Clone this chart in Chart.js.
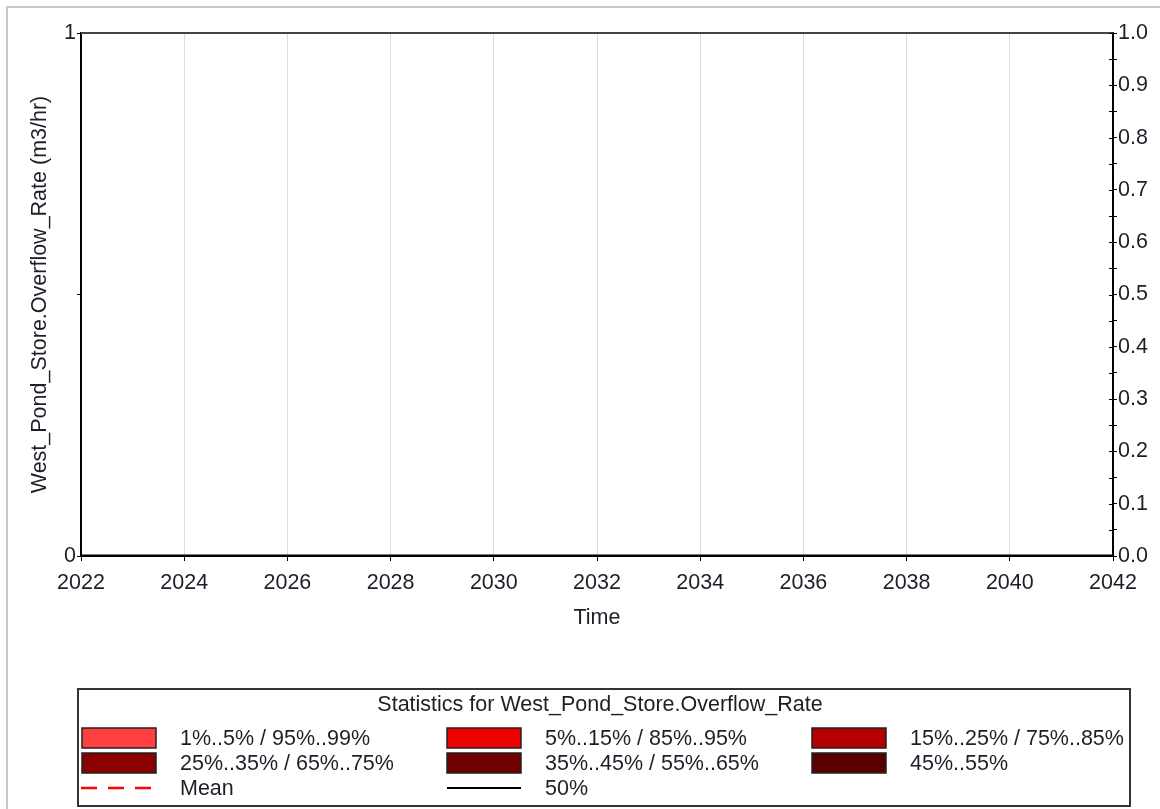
<!DOCTYPE html>
<html>
<head>
<meta charset="utf-8">
<script src="https://cdn.jsdelivr.net/npm/chart.js@4.4.1/dist/chart.umd.min.js"></script>
<style>
    html, body { margin: 0; padding: 0; background: #fff; }
    #wrap { position: relative; width: 1160px; height: 809px; }
</style>
</head>
<body>
<div id="wrap"><canvas id="overflowChart" width="1160" height="809"></canvas></div>
<script>
// time axis (years) and percentile series - the simulation never overflows, everything sits at 0
const years = [2022, 2023, 2024, 2025, 2026, 2027, 2028, 2029, 2030, 2031, 2032, 2033, 2034, 2035, 2036, 2037, 2038, 2039, 2040, 2041, 2042];
const pct01 = [0, 0, 0, 0, 0, 0, 0, 0, 0, 0, 0, 0, 0, 0, 0, 0, 0, 0, 0, 0, 0];
const pct05 = [0, 0, 0, 0, 0, 0, 0, 0, 0, 0, 0, 0, 0, 0, 0, 0, 0, 0, 0, 0, 0];
const pct15 = [0, 0, 0, 0, 0, 0, 0, 0, 0, 0, 0, 0, 0, 0, 0, 0, 0, 0, 0, 0, 0];
const pct25 = [0, 0, 0, 0, 0, 0, 0, 0, 0, 0, 0, 0, 0, 0, 0, 0, 0, 0, 0, 0, 0];
const pct35 = [0, 0, 0, 0, 0, 0, 0, 0, 0, 0, 0, 0, 0, 0, 0, 0, 0, 0, 0, 0, 0];
const pct45 = [0, 0, 0, 0, 0, 0, 0, 0, 0, 0, 0, 0, 0, 0, 0, 0, 0, 0, 0, 0, 0];
const pct55 = [0, 0, 0, 0, 0, 0, 0, 0, 0, 0, 0, 0, 0, 0, 0, 0, 0, 0, 0, 0, 0];
const pct65 = [0, 0, 0, 0, 0, 0, 0, 0, 0, 0, 0, 0, 0, 0, 0, 0, 0, 0, 0, 0, 0];
const pct75 = [0, 0, 0, 0, 0, 0, 0, 0, 0, 0, 0, 0, 0, 0, 0, 0, 0, 0, 0, 0, 0];
const pct85 = [0, 0, 0, 0, 0, 0, 0, 0, 0, 0, 0, 0, 0, 0, 0, 0, 0, 0, 0, 0, 0];
const pct95 = [0, 0, 0, 0, 0, 0, 0, 0, 0, 0, 0, 0, 0, 0, 0, 0, 0, 0, 0, 0, 0];
const pct99 = [0, 0, 0, 0, 0, 0, 0, 0, 0, 0, 0, 0, 0, 0, 0, 0, 0, 0, 0, 0, 0];
const meanVals = [0, 0, 0, 0, 0, 0, 0, 0, 0, 0, 0, 0, 0, 0, 0, 0, 0, 0, 0, 0, 0];
const medianVals = [0, 0, 0, 0, 0, 0, 0, 0, 0, 0, 0, 0, 0, 0, 0, 0, 0, 0, 0, 0, 0];

// axis ticks
const xTicks = [2022, 2024, 2026, 2028, 2030, 2032, 2034, 2036, 2038, 2040, 2042];
const leftTicks = [0, 0.5, 1];
const leftLabels = ["0", "", "1"];

// legend entries
const bandLabels = ["1%..5% / 95%..99%", "5%..15% / 85%..95%", "15%..25% / 75%..85%",
                    "25%..35% / 65%..75%", "35%..45% / 55%..65%", "45%..55%"];
const bandColors = ["#ff4040", "#ee0000", "#b40000", "#8b0000", "#6e0000", "#580000"];

const FONT = "'Liberation Sans', Arial, sans-serif";
const FS = 21.5;
const TEXT = "#1e1e28";

function pts(vals) {
    return years.map((y, i) => ({ x: y, y: vals[i] }));
}

// bands are filled against the previous dataset
const series = [pct01, pct05, pct15, pct25, pct35, pct45, pct55, pct65, pct75, pct85, pct95, pct99];
const fillColors = [null, bandColors[0], bandColors[1], bandColors[2], bandColors[3], bandColors[4],
                    bandColors[5], bandColors[4], bandColors[3], bandColors[2], bandColors[1], bandColors[0]];
const datasets = series.map((vals, i) => ({
    label: "p" + i,
    data: pts(vals),
    borderWidth: 0,
    pointRadius: 0,
    backgroundColor: fillColors[i] || "transparent",
    fill: i === 0 ? false : "-1",
    order: 5
}));
datasets.push({
    label: "Mean",
    data: pts(meanVals),
    borderColor: "#ff0000",
    borderWidth: 2,
    borderDash: [16, 11],
    pointRadius: 0,
    fill: false,
    order: 1
});
datasets.push({
    label: "50%",
    data: pts(medianVals),
    borderColor: "#000",
    borderWidth: 3,
    pointRadius: 0,
    fill: false,
    order: 0
});

// page frame, plot top edge, inner ticks on the right axis and the statistics legend
const decorations = {
    id: "decorations",
    beforeDraw(chart) {
        const ctx = chart.ctx;
        ctx.save();
        ctx.fillStyle = "#fff";
        ctx.fillRect(0, 0, chart.width, chart.height);
        ctx.fillStyle = "#c8c8c8";
        ctx.fillRect(6, 6, chart.width - 6, 2);
        ctx.fillRect(6, 6, 2, chart.height - 6);
        ctx.restore();
    },
    afterDraw(chart) {
        const ctx = chart.ctx;
        const area = chart.chartArea;
        const yr = chart.scales.yRight;
        ctx.save();

        // top edge of the plot
        ctx.strokeStyle = "#444";
        ctx.lineWidth = 2;
        ctx.beginPath();
        ctx.moveTo(area.left, area.top);
        ctx.lineTo(area.right, area.top);
        ctx.stroke();

        // right axis ticks cross the axis line
        ctx.strokeStyle = "#000";
        ctx.lineWidth = 1;
        yr.ticks.forEach(t => {
            const y = Math.round(yr.getPixelForValue(t.value)) + 0.5;
            ctx.beginPath();
            ctx.moveTo(area.right - 4, y);
            ctx.lineTo(area.right, y);
            ctx.stroke();
        });

        // legend box
        const bx = 78, by = 689, bw = 1052, bh = 117;
        ctx.strokeStyle = "#333";
        ctx.lineWidth = 2;
        ctx.strokeRect(bx, by, bw, bh);

        ctx.fillStyle = TEXT;
        ctx.font = FS + "px " + FONT;
        ctx.textBaseline = "middle";
        ctx.textAlign = "center";
        ctx.fillText("Statistics for West_Pond_Store.Overflow_Rate", 600, 705);

        const colX = [82, 447, 812];
        const rowY = [738, 763, 788];
        ctx.textAlign = "left";
        bandLabels.forEach((lbl, i) => {
            const cx = colX[i % 3], cy = rowY[Math.floor(i / 3)];
            ctx.fillStyle = bandColors[i];
            ctx.fillRect(cx, cy - 10, 74, 20);
            ctx.strokeStyle = "#222";
            ctx.lineWidth = 1.5;
            ctx.strokeRect(cx, cy - 10, 74, 20);
            ctx.fillStyle = TEXT;
            ctx.fillText(lbl, cx + 98, cy + 1);
        });

        // mean (dashed red) and median (black) legend lines
        ctx.strokeStyle = "#ff0000";
        ctx.lineWidth = 2.5;
        ctx.setLineDash([16, 11]);
        ctx.beginPath();
        ctx.moveTo(81, rowY[2]);
        ctx.lineTo(152, rowY[2]);
        ctx.stroke();
        ctx.setLineDash([]);
        ctx.strokeStyle = "#000";
        ctx.lineWidth = 2;
        ctx.beginPath();
        ctx.moveTo(colX[1], rowY[2]);
        ctx.lineTo(colX[1] + 74, rowY[2]);
        ctx.stroke();
        ctx.fillStyle = TEXT;
        ctx.fillText("Mean", colX[0] + 98, rowY[2] + 1);
        ctx.fillText("50%", colX[1] + 98, rowY[2] + 1);

        ctx.restore();
    }
};

const ctx = document.getElementById("overflowChart").getContext("2d");
new Chart(ctx, {
    type: "line",
    data: { datasets: datasets },
    plugins: [decorations],
    options: {
        responsive: false,
        animation: false,
        events: [],
        layout: { padding: { top: 33, left: 0, right: 0, bottom: 178 } },
        plugins: {
            legend: { display: false },
            tooltip: { enabled: false },
            filler: { propagate: false }
        },
        scales: {
            x: {
                type: "linear",
                min: xTicks[0],
                max: xTicks[xTicks.length - 1],
                afterBuildTicks: scale => { scale.ticks = xTicks.map(v => ({ value: v })); },
                afterFit: scale => { scale.height = 75; },
                grid: { color: "#dcdcdc", lineWidth: 1, tickLength: 5, tickColor: "#000", drawOnChartArea: true },
                border: { color: "#000", width: 2 },
                ticks: {
                    color: TEXT,
                    font: { family: FONT, size: FS },
                    padding: 9,
                    maxRotation: 0,
                    callback: v => String(v)
                },
                title: {
                    display: true,
                    text: "Time",
                    color: TEXT,
                    font: { family: FONT, size: FS },
                    padding: { top: 0, bottom: 0 }
                }
            },
            y: {
                position: "left",
                min: 0,
                max: 1,
                afterBuildTicks: scale => { scale.ticks = leftTicks.map(v => ({ value: v })); },
                afterFit: scale => { scale.width = 81; },
                grid: { drawOnChartArea: false, tickLength: 4, tickColor: "#000" },
                border: { color: "#000", width: 2 },
                ticks: {
                    color: TEXT,
                    font: { family: FONT, size: FS },
                    padding: 1,
                    callback: (v, i) => leftLabels[i]
                },
                title: {
                    display: true,
                    text: "West_Pond_Store.Overflow_Rate (m3/hr)",
                    color: TEXT,
                    font: { family: FONT, size: FS },
                    padding: { top: 27, bottom: 0 }
                }
            },
            yRight: {
                position: "right",
                min: 0,
                max: 1,
                ticks: {
                    stepSize: 0.05,
                    color: TEXT,
                    font: { family: FONT, size: FS },
                    padding: 1,
                    autoSkip: false,
                    callback: v => {
                        const r = Math.round(v * 100);
                        return r % 10 === 0 ? (r / 100).toFixed(1) : "";
                    }
                },
                afterFit: scale => { scale.width = 47; },
                grid: { drawOnChartArea: false, tickLength: 4, tickColor: "#000" },
                border: { color: "#000", width: 2 }
            }
        }
    }
});
</script>
</body>
</html>
